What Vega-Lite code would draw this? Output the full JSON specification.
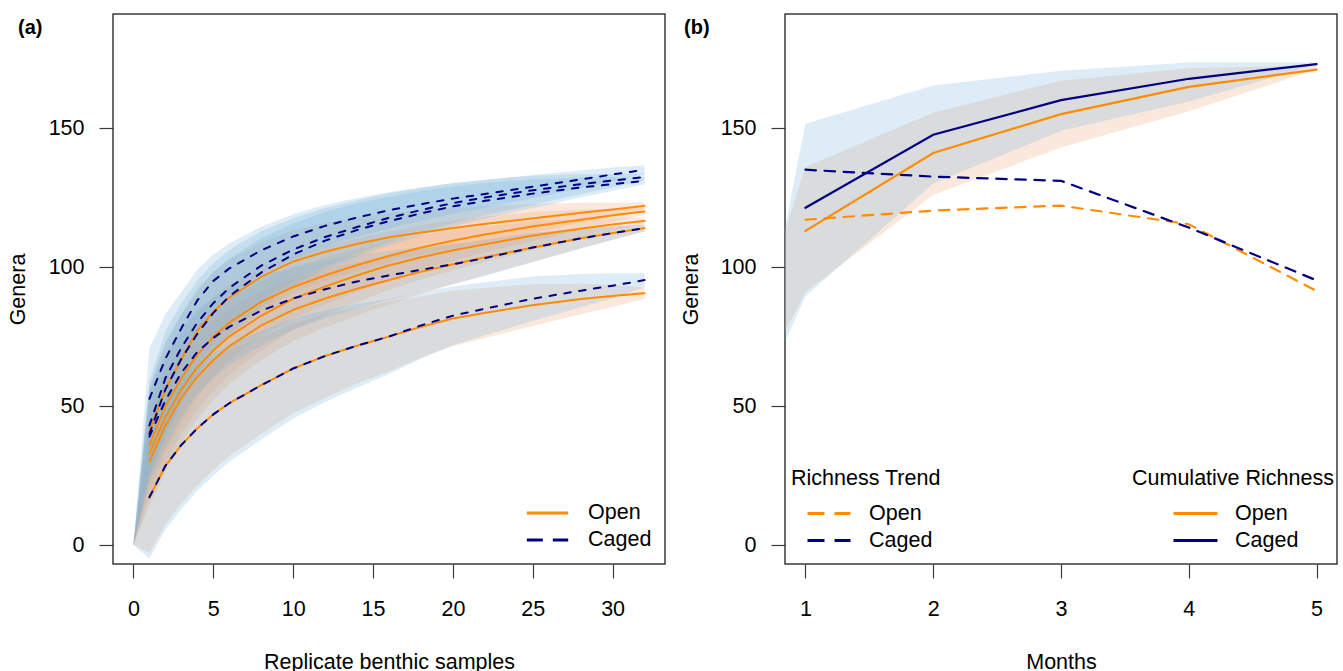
{
  "$schema": "https://vega.github.io/schema/vega-lite/v6.json",
  "background": "white",
  "padding": {"left": 6, "top": 13, "right": 4, "bottom": 0},
  "config": {
    "font": "Liberation Sans",
    "view": {"stroke": "#3a3a3a", "strokeWidth": 1.5},
    "axis": {"domain": false, "grid": false, "tickSize": 14, "tickColor": "#3a3a3a", "tickWidth": 1.2, "labelFont": "Liberation Sans", "labelFontSize": 21.5, "labelColor": "#000000", "titleFont": "Liberation Sans", "titleFontSize": 21.5, "titleFontWeight": "normal", "titleColor": "#000000", "format": "d"},
    "axisY": {"labelPadding": 15, "labelAngle": 0},
    "axisX": {"labelPadding": 20, "labelAngle": 0},
    "legend": {"labelFont": "Liberation Sans", "labelFontSize": 21.5, "labelColor": "#000000", "titleFont": "Liberation Sans", "titleFontSize": 21.5, "titleFontWeight": "normal", "titleColor": "#000000", "padding": 0, "rowPadding": 5, "clipHeight": 22, "symbolType": "stroke", "symbolStrokeWidth": 3, "titleLimit": 0, "labelLimit": 0}
  },
  "datasets": {
    "curves": [
      {"t":"Open","m":1,"n":0,"lo":0,"hi":0},
      {"t":"Open","m":1,"n":1,"g":33,"lo":17,"hi":49},
      {"t":"Open","m":1,"n":2,"g":46,"lo":29.2,"hi":62.8},
      {"t":"Open","m":1,"n":3,"g":56,"lo":40,"hi":72},
      {"t":"Open","m":1,"n":4,"g":64,"lo":48.8,"hi":79.2},
      {"t":"Open","m":1,"n":5,"g":70,"lo":55.6,"hi":84.4},
      {"t":"Open","m":1,"n":6,"g":75,"lo":61.4,"hi":88.6},
      {"t":"Open","m":1,"n":8,"g":82.5,"lo":70.1,"hi":94.9},
      {"t":"Open","m":1,"n":10,"g":88.6,"lo":77.4,"hi":99.8},
      {"t":"Open","m":1,"n":12,"g":93,"lo":82.6,"hi":103.4},
      {"t":"Open","m":1,"n":14,"g":97,"lo":87.4,"hi":106.6},
      {"t":"Open","m":1,"n":16,"g":100.6,"lo":91.8,"hi":109.4},
      {"t":"Open","m":1,"n":18,"g":103.5,"lo":95.5,"hi":111.5},
      {"t":"Open","m":1,"n":20,"g":106,"lo":98.8,"hi":113.2},
      {"t":"Open","m":1,"n":22,"g":108.2,"lo":101.8,"hi":114.6},
      {"t":"Open","m":1,"n":25,"g":111.3,"lo":106.1,"hi":116.5},
      {"t":"Open","m":1,"n":28,"g":113.8,"lo":110.2,"hi":117.4},
      {"t":"Open","m":1,"n":30,"g":115.3,"lo":112.9,"hi":117.7},
      {"t":"Open","m":1,"n":32,"g":116.6,"lo":115.4,"hi":117.8},
      {"t":"Open","m":2,"n":0,"lo":0,"hi":0},
      {"t":"Open","m":2,"n":1,"g":36,"lo":20,"hi":52},
      {"t":"Open","m":2,"n":2,"g":50,"lo":33.2,"hi":66.8},
      {"t":"Open","m":2,"n":3,"g":60,"lo":44,"hi":76},
      {"t":"Open","m":2,"n":4,"g":68.5,"lo":53.3,"hi":83.7},
      {"t":"Open","m":2,"n":5,"g":75,"lo":60.6,"hi":89.4},
      {"t":"Open","m":2,"n":6,"g":80,"lo":66.4,"hi":93.6},
      {"t":"Open","m":2,"n":8,"g":87.5,"lo":75.1,"hi":99.9},
      {"t":"Open","m":2,"n":10,"g":92.8,"lo":81.6,"hi":104},
      {"t":"Open","m":2,"n":12,"g":97,"lo":86.6,"hi":107.4},
      {"t":"Open","m":2,"n":14,"g":100.7,"lo":91.1,"hi":110.3},
      {"t":"Open","m":2,"n":16,"g":104,"lo":95.2,"hi":112.8},
      {"t":"Open","m":2,"n":18,"g":107,"lo":99,"hi":115},
      {"t":"Open","m":2,"n":20,"g":109.5,"lo":102.3,"hi":116.7},
      {"t":"Open","m":2,"n":22,"g":111.7,"lo":105.3,"hi":118.1},
      {"t":"Open","m":2,"n":25,"g":114.6,"lo":109.4,"hi":119.8},
      {"t":"Open","m":2,"n":28,"g":117,"lo":113.4,"hi":120.6},
      {"t":"Open","m":2,"n":30,"g":118.6,"lo":116.2,"hi":121},
      {"t":"Open","m":2,"n":32,"g":120,"lo":118.8,"hi":121.2},
      {"t":"Open","m":3,"n":0,"lo":0,"hi":0},
      {"t":"Open","m":3,"n":1,"g":41,"lo":25,"hi":57},
      {"t":"Open","m":3,"n":2,"g":56,"lo":39.2,"hi":72.8},
      {"t":"Open","m":3,"n":3,"g":67,"lo":51,"hi":83},
      {"t":"Open","m":3,"n":4,"g":77,"lo":61.8,"hi":92.2},
      {"t":"Open","m":3,"n":5,"g":84,"lo":69.6,"hi":98.4},
      {"t":"Open","m":3,"n":6,"g":89,"lo":75.4,"hi":102.6},
      {"t":"Open","m":3,"n":8,"g":96.5,"lo":84.1,"hi":108.9},
      {"t":"Open","m":3,"n":10,"g":102,"lo":90.8,"hi":113.2},
      {"t":"Open","m":3,"n":12,"g":105.5,"lo":95.1,"hi":115.9},
      {"t":"Open","m":3,"n":14,"g":108.3,"lo":98.7,"hi":117.9},
      {"t":"Open","m":3,"n":16,"g":110.7,"lo":101.9,"hi":119.5},
      {"t":"Open","m":3,"n":18,"g":112.4,"lo":104.4,"hi":120.4},
      {"t":"Open","m":3,"n":20,"g":114,"lo":106.8,"hi":121.2},
      {"t":"Open","m":3,"n":22,"g":115.5,"lo":109.1,"hi":121.9},
      {"t":"Open","m":3,"n":25,"g":117.5,"lo":112.3,"hi":122.7},
      {"t":"Open","m":3,"n":28,"g":119.5,"lo":115.9,"hi":123.1},
      {"t":"Open","m":3,"n":30,"g":120.7,"lo":118.3,"hi":123.1},
      {"t":"Open","m":3,"n":32,"g":122,"lo":120.8,"hi":123.2},
      {"t":"Open","m":4,"n":0,"lo":0,"hi":0},
      {"t":"Open","m":4,"n":1,"g":30,"lo":14,"hi":46},
      {"t":"Open","m":4,"n":2,"g":43,"lo":26.2,"hi":59.8},
      {"t":"Open","m":4,"n":3,"g":53,"lo":37,"hi":69},
      {"t":"Open","m":4,"n":4,"g":60.5,"lo":45.3,"hi":75.7},
      {"t":"Open","m":4,"n":5,"g":66.5,"lo":52.1,"hi":80.9},
      {"t":"Open","m":4,"n":6,"g":71.5,"lo":57.9,"hi":85.1},
      {"t":"Open","m":4,"n":8,"g":79,"lo":66.6,"hi":91.4},
      {"t":"Open","m":4,"n":10,"g":84.6,"lo":73.4,"hi":95.8},
      {"t":"Open","m":4,"n":12,"g":88.7,"lo":78.3,"hi":99.1},
      {"t":"Open","m":4,"n":14,"g":92.2,"lo":82.6,"hi":101.8},
      {"t":"Open","m":4,"n":16,"g":95.3,"lo":86.5,"hi":104.1},
      {"t":"Open","m":4,"n":18,"g":98.3,"lo":90.3,"hi":106.3},
      {"t":"Open","m":4,"n":20,"g":101,"lo":93.8,"hi":108.2},
      {"t":"Open","m":4,"n":22,"g":103.5,"lo":97.1,"hi":109.9},
      {"t":"Open","m":4,"n":25,"g":107,"lo":101.8,"hi":112.2},
      {"t":"Open","m":4,"n":28,"g":110.3,"lo":106.7,"hi":113.9},
      {"t":"Open","m":4,"n":30,"g":112.2,"lo":109.8,"hi":114.6},
      {"t":"Open","m":4,"n":32,"g":114,"lo":112.8,"hi":115.2},
      {"t":"Open","m":5,"n":0,"lo":0,"hi":0},
      {"t":"Open","m":5,"n":1,"g":17.2,"lo":-2.8,"hi":37.2},
      {"t":"Open","m":5,"n":2,"g":28.5,"lo":7.5,"hi":49.5},
      {"t":"Open","m":5,"n":3,"g":36,"lo":15,"hi":57},
      {"t":"Open","m":5,"n":4,"g":42,"lo":21.5,"hi":62.5},
      {"t":"Open","m":5,"n":5,"g":47,"lo":27,"hi":67},
      {"t":"Open","m":5,"n":6,"g":51,"lo":32,"hi":70},
      {"t":"Open","m":5,"n":8,"g":57.5,"lo":40,"hi":75},
      {"t":"Open","m":5,"n":10,"g":63.5,"lo":47.5,"hi":79.5},
      {"t":"Open","m":5,"n":12,"g":68,"lo":53,"hi":83},
      {"t":"Open","m":5,"n":14,"g":71.7,"lo":58.2,"hi":85.2},
      {"t":"Open","m":5,"n":16,"g":75,"lo":62.5,"hi":87.5},
      {"t":"Open","m":5,"n":18,"g":78.5,"lo":67.5,"hi":89.5},
      {"t":"Open","m":5,"n":20,"g":81.5,"lo":71.5,"hi":91.5},
      {"t":"Open","m":5,"n":22,"g":83.5,"lo":74.5,"hi":92.5},
      {"t":"Open","m":5,"n":25,"g":86.3,"lo":78.8,"hi":93.8},
      {"t":"Open","m":5,"n":28,"g":88.5,"lo":83,"hi":94},
      {"t":"Open","m":5,"n":30,"g":89.6,"lo":85.6,"hi":93.6},
      {"t":"Open","m":5,"n":32,"g":90.6,"lo":88.6,"hi":92.6},
      {"t":"Caged","m":1,"n":0,"lo":0,"hi":0},
      {"t":"Caged","m":1,"n":1,"g":52.6,"lo":34.6,"hi":70.6},
      {"t":"Caged","m":1,"n":2,"g":67,"lo":51,"hi":83},
      {"t":"Caged","m":1,"n":3,"g":78,"lo":65,"hi":91},
      {"t":"Caged","m":1,"n":4,"g":88,"lo":77,"hi":99},
      {"t":"Caged","m":1,"n":5,"g":95,"lo":85.5,"hi":104.5},
      {"t":"Caged","m":1,"n":6,"g":99.5,"lo":90.5,"hi":108.5},
      {"t":"Caged","m":1,"n":8,"g":106,"lo":97.5,"hi":114.5},
      {"t":"Caged","m":1,"n":10,"g":111,"lo":103,"hi":119},
      {"t":"Caged","m":1,"n":12,"g":114.8,"lo":107.3,"hi":122.3},
      {"t":"Caged","m":1,"n":14,"g":117.8,"lo":110.8,"hi":124.8},
      {"t":"Caged","m":1,"n":16,"g":120.4,"lo":113.9,"hi":126.9},
      {"t":"Caged","m":1,"n":18,"g":122.6,"lo":116.6,"hi":128.6},
      {"t":"Caged","m":1,"n":20,"g":124.6,"lo":119.1,"hi":130.1},
      {"t":"Caged","m":1,"n":22,"g":126.3,"lo":121.3,"hi":131.3},
      {"t":"Caged","m":1,"n":25,"g":128.9,"lo":124.7,"hi":133.1},
      {"t":"Caged","m":1,"n":28,"g":131.5,"lo":128.3,"hi":134.7},
      {"t":"Caged","m":1,"n":30,"g":133.3,"lo":130.8,"hi":135.8},
      {"t":"Caged","m":1,"n":32,"g":135,"lo":133.5,"hi":136.5},
      {"t":"Caged","m":2,"n":0,"lo":0,"hi":0},
      {"t":"Caged","m":2,"n":1,"g":43,"lo":27,"hi":59},
      {"t":"Caged","m":2,"n":2,"g":60,"lo":43.2,"hi":76.8},
      {"t":"Caged","m":2,"n":3,"g":71,"lo":55,"hi":87},
      {"t":"Caged","m":2,"n":4,"g":80,"lo":64.8,"hi":95.2},
      {"t":"Caged","m":2,"n":5,"g":87,"lo":72.6,"hi":101.4},
      {"t":"Caged","m":2,"n":6,"g":92.5,"lo":78.9,"hi":106.1},
      {"t":"Caged","m":2,"n":8,"g":100.5,"lo":88.1,"hi":112.9},
      {"t":"Caged","m":2,"n":10,"g":106.3,"lo":95.1,"hi":117.5},
      {"t":"Caged","m":2,"n":12,"g":110.8,"lo":100.4,"hi":121.2},
      {"t":"Caged","m":2,"n":14,"g":114.4,"lo":104.8,"hi":124},
      {"t":"Caged","m":2,"n":16,"g":117.7,"lo":108.9,"hi":126.5},
      {"t":"Caged","m":2,"n":18,"g":120.5,"lo":112.5,"hi":128.5},
      {"t":"Caged","m":2,"n":20,"g":123,"lo":115.8,"hi":130.2},
      {"t":"Caged","m":2,"n":22,"g":125,"lo":118.6,"hi":131.4},
      {"t":"Caged","m":2,"n":25,"g":127.6,"lo":122.4,"hi":132.8},
      {"t":"Caged","m":2,"n":28,"g":129.8,"lo":126.2,"hi":133.4},
      {"t":"Caged","m":2,"n":30,"g":131.1,"lo":128.7,"hi":133.5},
      {"t":"Caged","m":2,"n":32,"g":132.4,"lo":131.2,"hi":133.6},
      {"t":"Caged","m":3,"n":0,"lo":0,"hi":0},
      {"t":"Caged","m":3,"n":1,"g":40,"lo":24,"hi":56},
      {"t":"Caged","m":3,"n":2,"g":56,"lo":39.2,"hi":72.8},
      {"t":"Caged","m":3,"n":3,"g":67,"lo":51,"hi":83},
      {"t":"Caged","m":3,"n":4,"g":76,"lo":60.8,"hi":91.2},
      {"t":"Caged","m":3,"n":5,"g":83.5,"lo":69.1,"hi":97.9},
      {"t":"Caged","m":3,"n":6,"g":89.5,"lo":75.9,"hi":103.1},
      {"t":"Caged","m":3,"n":8,"g":98,"lo":85.6,"hi":110.4},
      {"t":"Caged","m":3,"n":10,"g":104.5,"lo":93.3,"hi":115.7},
      {"t":"Caged","m":3,"n":12,"g":109.5,"lo":99.1,"hi":119.9},
      {"t":"Caged","m":3,"n":14,"g":113.3,"lo":103.7,"hi":122.9},
      {"t":"Caged","m":3,"n":16,"g":116.5,"lo":107.7,"hi":125.3},
      {"t":"Caged","m":3,"n":18,"g":119.3,"lo":111.3,"hi":127.3},
      {"t":"Caged","m":3,"n":20,"g":121.8,"lo":114.6,"hi":129},
      {"t":"Caged","m":3,"n":22,"g":123.8,"lo":117.4,"hi":130.2},
      {"t":"Caged","m":3,"n":25,"g":126.4,"lo":121.2,"hi":131.6},
      {"t":"Caged","m":3,"n":28,"g":128.6,"lo":125,"hi":132.2},
      {"t":"Caged","m":3,"n":30,"g":129.8,"lo":127.4,"hi":132.2},
      {"t":"Caged","m":3,"n":32,"g":131,"lo":129.8,"hi":132.2},
      {"t":"Caged","m":4,"n":0,"lo":0,"hi":0},
      {"t":"Caged","m":4,"n":1,"g":39,"lo":23,"hi":55},
      {"t":"Caged","m":4,"n":2,"g":52,"lo":35.2,"hi":68.8},
      {"t":"Caged","m":4,"n":3,"g":62,"lo":46,"hi":78},
      {"t":"Caged","m":4,"n":4,"g":69.5,"lo":54.3,"hi":84.7},
      {"t":"Caged","m":4,"n":5,"g":74.5,"lo":60.1,"hi":88.9},
      {"t":"Caged","m":4,"n":6,"g":78.5,"lo":64.9,"hi":92.1},
      {"t":"Caged","m":4,"n":8,"g":84.3,"lo":71.9,"hi":96.7},
      {"t":"Caged","m":4,"n":10,"g":88.7,"lo":77.5,"hi":99.9},
      {"t":"Caged","m":4,"n":12,"g":92,"lo":81.6,"hi":102.4},
      {"t":"Caged","m":4,"n":14,"g":94.8,"lo":85.2,"hi":104.4},
      {"t":"Caged","m":4,"n":16,"g":97,"lo":88.2,"hi":105.8},
      {"t":"Caged","m":4,"n":18,"g":99,"lo":91,"hi":107},
      {"t":"Caged","m":4,"n":20,"g":101,"lo":93.8,"hi":108.2},
      {"t":"Caged","m":4,"n":22,"g":103.2,"lo":96.8,"hi":109.6},
      {"t":"Caged","m":4,"n":25,"g":107,"lo":101.8,"hi":112.2},
      {"t":"Caged","m":4,"n":28,"g":110.3,"lo":106.7,"hi":113.9},
      {"t":"Caged","m":4,"n":30,"g":112.2,"lo":109.8,"hi":114.6},
      {"t":"Caged","m":4,"n":32,"g":114,"lo":112.8,"hi":115.2},
      {"t":"Caged","m":5,"n":0,"lo":0,"hi":0},
      {"t":"Caged","m":5,"n":1,"g":17.2,"lo":-4.8,"hi":39.2},
      {"t":"Caged","m":5,"n":2,"g":28.5,"lo":5.5,"hi":51.5},
      {"t":"Caged","m":5,"n":3,"g":36,"lo":13,"hi":59},
      {"t":"Caged","m":5,"n":4,"g":42,"lo":19.5,"hi":64.5},
      {"t":"Caged","m":5,"n":5,"g":47,"lo":25,"hi":69},
      {"t":"Caged","m":5,"n":6,"g":51,"lo":30,"hi":72},
      {"t":"Caged","m":5,"n":8,"g":57.5,"lo":38,"hi":77},
      {"t":"Caged","m":5,"n":10,"g":63.5,"lo":45.5,"hi":81.5},
      {"t":"Caged","m":5,"n":12,"g":68,"lo":51.5,"hi":84.5},
      {"t":"Caged","m":5,"n":14,"g":71.7,"lo":56.7,"hi":86.7},
      {"t":"Caged","m":5,"n":16,"g":75,"lo":61.5,"hi":88.5},
      {"t":"Caged","m":5,"n":18,"g":79,"lo":67,"hi":91},
      {"t":"Caged","m":5,"n":20,"g":82.5,"lo":72,"hi":93},
      {"t":"Caged","m":5,"n":22,"g":85,"lo":75.5,"hi":94.5},
      {"t":"Caged","m":5,"n":25,"g":88.6,"lo":80.6,"hi":96.6},
      {"t":"Caged","m":5,"n":28,"g":91.5,"lo":85.5,"hi":97.5},
      {"t":"Caged","m":5,"n":30,"g":93.3,"lo":88.8,"hi":97.8},
      {"t":"Caged","m":5,"n":32,"g":95.3,"lo":92.8,"hi":97.8}
    ],
    "trend": [
      {"t":"Open","mo":1,"g":117},{"t":"Open","mo":2,"g":120.3},{"t":"Open","mo":3,"g":122.1},{"t":"Open","mo":4,"g":115.4},{"t":"Open","mo":5,"g":91.4},
      {"t":"Caged","mo":1,"g":135},{"t":"Caged","mo":2,"g":132.5},{"t":"Caged","mo":3,"g":131},{"t":"Caged","mo":4,"g":114.2},{"t":"Caged","mo":5,"g":95.2}
    ],
    "cum": [
      {"t":"Open","mo":1,"g":113},{"t":"Open","mo":2,"g":141},{"t":"Open","mo":3,"g":155},{"t":"Open","mo":4,"g":164.8},{"t":"Open","mo":5,"g":171},
      {"t":"Caged","mo":1,"g":121.3},{"t":"Caged","mo":2,"g":147.6},{"t":"Caged","mo":3,"g":160},{"t":"Caged","mo":4,"g":167.7},{"t":"Caged","mo":5,"g":173}
    ],
    "cumband": [
      {"t":"Open","mo":0.84,"lo":77,"hi":113},{"t":"Open","mo":1,"lo":91,"hi":136},{"t":"Open","mo":2,"lo":126,"hi":155.5},{"t":"Open","mo":3,"lo":143,"hi":167},{"t":"Open","mo":4,"lo":156,"hi":171.5},{"t":"Open","mo":5,"lo":171,"hi":172.5},
      {"t":"Caged","mo":0.84,"lo":73,"hi":114},{"t":"Caged","mo":1,"lo":89.5,"hi":151.5},{"t":"Caged","mo":2,"lo":130,"hi":165.3},{"t":"Caged","mo":3,"lo":149,"hi":170.6},{"t":"Caged","mo":4,"lo":159.5,"hi":173.6},{"t":"Caged","mo":5,"lo":172.8,"hi":173.6}
    ]
  },
  "bounds": "flush",
  "spacing": 120,
  "resolve": {"scale": {"color": "independent", "fill": "independent", "strokeDash": "independent"}},
  "hconcat": [
    {
      "width": 552,
      "height": 550,
      "title": {"text": "(a)", "anchor": "start", "frame": "group", "dx": -95, "dy": 34, "offset": 0, "baseline": "middle", "fontSize": 20, "fontWeight": "bold", "font": "Liberation Sans", "color": "#000000"},
      "resolve": {"scale": {"color": "independent", "strokeDash": "independent"}},
      "layer": [
        {
          "data": {"name": "curves"},
          "mark": {"type": "area", "clip": true, "opacity": 1, "fillOpacity": 0.25},
          "encoding": {
            "x": {"field": "n", "type": "quantitative", "scale": {"domain": [-1.28, 33.28], "nice": false, "zero": false},
                  "axis": {"values": [0, 5, 10, 15, 20, 25, 30], "title": "Replicate benthic samples", "titleX": 276, "titleY": 98, "titleAlign": "center", "titleBaseline": "middle"}},
            "y": {"field": "lo", "type": "quantitative", "scale": {"domain": [-6.8, 191], "nice": false, "zero": false},
                  "axis": {"values": [0, 50, 100, 150], "title": "Genera", "titleX": -95, "titleY": 275, "titleAngle": -90, "titleAlign": "center", "titleBaseline": "middle"}},
            "y2": {"field": "hi"},
            "fill": {"field": "t", "type": "nominal", "scale": {"domain": ["Open", "Caged"], "range": ["#EBA573", "#78B4DC"]}, "legend": null},
            "detail": {"field": "m", "type": "nominal"}
          }
        },
        {
          "data": {"name": "curves"},
          "transform": [{"filter": {"field": "g", "valid": true}}],
          "mark": {"type": "line", "strokeWidth": 2, "strokeCap": "round", "clip": true},
          "encoding": {
            "x": {"field": "n", "type": "quantitative"},
            "y": {"field": "g", "type": "quantitative"},
            "color": {"field": "t", "type": "nominal", "scale": {"domain": ["Open", "Caged"], "range": ["#FF8C00", "#000080"]}, "legend": null},
            "strokeDash": {"field": "t", "type": "nominal", "scale": {"domain": ["Open", "Caged"], "range": [[1, 0], [6.5, 8.5]]}, "legend": null},
            "detail": {"field": "m", "type": "nominal"}
          }
        },
        {
          "data": {"name": "curves"},
          "transform": [{"filter": "false"}],
          "mark": {"type": "line", "strokeWidth": 3},
          "encoding": {
            "x": {"field": "n", "type": "quantitative"},
            "y": {"field": "g", "type": "quantitative"},
            "color": {"field": "t", "type": "nominal", "scale": {"domain": ["Open", "Caged"], "range": ["#FF8C00", "#000080"]},
                      "legend": {"title": null, "orient": "none", "legendX": 412, "legendY": 488, "symbolSize": 1714, "labelOffset": 18, "symbolStrokeWidth": 3}},
            "strokeDash": {"field": "t", "type": "nominal", "scale": {"domain": ["Open", "Caged"], "range": [[1, 0], [16, 10]]},
                      "legend": {"title": null, "orient": "none", "legendX": 412, "legendY": 488, "symbolSize": 1714, "labelOffset": 18, "symbolStrokeWidth": 3}}
          }
        }
      ]
    },
    {
      "width": 552,
      "height": 550,
      "title": {"text": "(b)", "anchor": "start", "frame": "group", "dx": -101, "dy": 34, "offset": 0, "baseline": "middle", "fontSize": 20, "fontWeight": "bold", "font": "Liberation Sans", "color": "#000000"},
      "resolve": {"scale": {"color": "independent"}},
      "layer": [
        {
          "data": {"name": "cumband"},
          "mark": {"type": "area", "clip": true, "opacity": 1, "fillOpacity": 0.25},
          "encoding": {
            "x": {"field": "mo", "type": "quantitative", "scale": {"domain": [0.84, 5.16], "nice": false, "zero": false},
                  "axis": {"values": [1, 2, 3, 4, 5], "title": "Months", "titleX": 276, "titleY": 98, "titleAlign": "center", "titleBaseline": "middle"}},
            "y": {"field": "lo", "type": "quantitative", "scale": {"domain": [-6.8, 191], "nice": false, "zero": false},
                  "axis": {"values": [0, 50, 100, 150], "title": "Genera", "titleX": -94, "titleY": 275, "titleAngle": -90, "titleAlign": "center", "titleBaseline": "middle"}},
            "y2": {"field": "hi"},
            "fill": {"field": "t", "type": "nominal", "scale": {"domain": ["Open", "Caged"], "range": ["#EBA573", "#78B4DC"]}, "legend": null}
          }
        },
        {
          "data": {"name": "trend"},
          "mark": {"type": "line", "strokeWidth": 2.2, "strokeCap": "round", "strokeDash": [10.5, 8.6], "clip": true},
          "encoding": {
            "x": {"field": "mo", "type": "quantitative"},
            "y": {"field": "g", "type": "quantitative"},
            "color": {"field": "t", "type": "nominal", "scale": {"domain": ["Open", "Caged"], "range": ["#FF8C00", "#000080"]},
                      "legend": {"title": "Richness Trend", "orient": "none", "legendX": 6, "legendY": 454, "titlePadding": 13, "symbolSize": 1849, "symbolOffset": 15, "labelOffset": 17, "symbolStrokeWidth": 3, "symbolDash": [17, 10]}}
          }
        },
        {
          "data": {"name": "cum"},
          "mark": {"type": "line", "strokeWidth": 2.2, "strokeCap": "round", "clip": true},
          "encoding": {
            "x": {"field": "mo", "type": "quantitative"},
            "y": {"field": "g", "type": "quantitative"},
            "color": {"field": "t", "type": "nominal", "scale": {"domain": ["Open", "Caged"], "range": ["#FF8C00", "#000080"]},
                      "legend": {"title": "Cumulative Richness", "orient": "none", "legendX": 347, "legendY": 454, "titlePadding": 13, "symbolSize": 1936, "symbolOffset": 40, "labelOffset": 16, "symbolStrokeWidth": 3}}
          }
        }
      ]
    }
  ]
}
